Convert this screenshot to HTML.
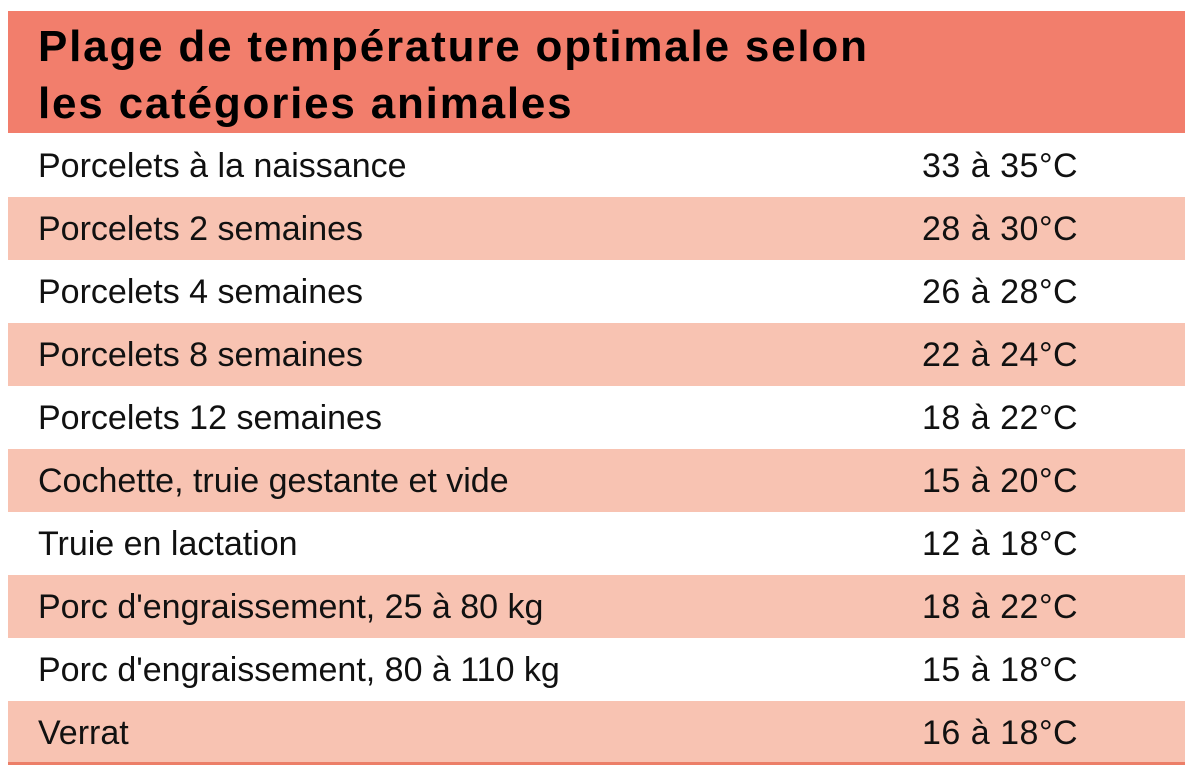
<!DOCTYPE html>
<html><head><meta charset="utf-8"><style>
body{margin:0;background:#fff;width:1199px;height:776px;overflow:hidden;font-family:"Liberation Sans","DejaVu Sans",sans-serif;}
.h{position:absolute;left:8px;top:11px;width:1177px;height:122px;background:#F27E6C;}
.h div{position:absolute;left:30px;top:7px;font-weight:bold;font-size:44px;line-height:57px;color:#000;letter-spacing:1.8px}
.r{position:absolute;left:8px;width:1177px;height:63px;font-size:34px;color:#111;}
.r span{position:absolute;top:13px;}
.p{background:#F8C3B2;}
.a{left:30px}.b{left:914px;letter-spacing:0.5px}
.line{position:absolute;left:8px;top:762px;width:1177px;height:3px;background:#EC7F68}
</style></head><body>
<div class="h"><div>Plage de température optimale selon<br>les catégories animales</div></div>
<div class="r" style="top:134px"><span class="a">Porcelets à la naissance</span><span class="b">33 à 35°C</span></div>
<div class="r p" style="top:197px"><span class="a">Porcelets 2 semaines</span><span class="b">28 à 30°C</span></div>
<div class="r" style="top:260px"><span class="a">Porcelets 4 semaines</span><span class="b">26 à 28°C</span></div>
<div class="r p" style="top:323px"><span class="a">Porcelets 8 semaines</span><span class="b">22 à 24°C</span></div>
<div class="r" style="top:386px"><span class="a">Porcelets 12 semaines</span><span class="b">18 à 22°C</span></div>
<div class="r p" style="top:449px"><span class="a">Cochette, truie gestante et vide</span><span class="b">15 à 20°C</span></div>
<div class="r" style="top:512px"><span class="a">Truie en lactation</span><span class="b">12 à 18°C</span></div>
<div class="r p" style="top:575px"><span class="a">Porc d'engraissement, 25 à 80 kg</span><span class="b">18 à 22°C</span></div>
<div class="r" style="top:638px"><span class="a">Porc d'engraissement, 80 à 110 kg</span><span class="b">15 à 18°C</span></div>
<div class="r p" style="top:701px;height:61px"><span class="a">Verrat</span><span class="b">16 à 18°C</span></div>
<div class="line"></div>
</body></html>
